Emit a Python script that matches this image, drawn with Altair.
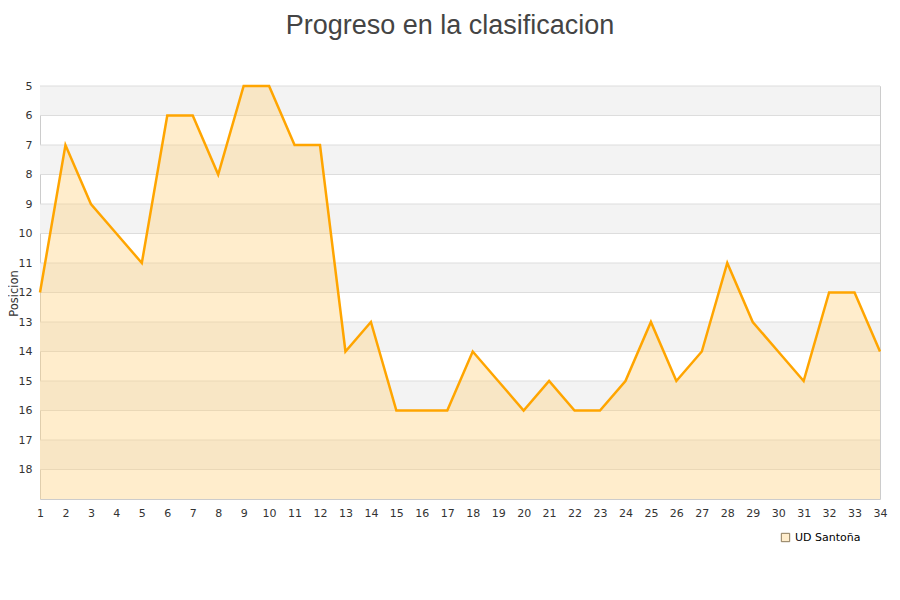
import altair as alt
import pandas as pd

jornadas = list(range(1, 35))
posiciones = [12, 7, 9, 10, 11, 6, 6, 8, 5, 5, 7, 7, 14, 13, 16, 16, 16, 14, 15, 16,
              15, 16, 16, 15, 13, 15, 14, 11, 13, 14, 15, 12, 12, 14]
equipo = "UD Santoña"
band_starts = [5, 7, 9, 11, 13, 15, 17]
y_ticks = list(range(5, 19))

df = pd.DataFrame({"jornada": jornadas, "posicion": posiciones, "equipo": [equipo] * len(jornadas)})
bands = pd.DataFrame({"y0": band_starts, "y1": [b + 1 for b in band_starts]})

yscale = alt.Scale(domain=[5, 19], reverse=True, nice=False, zero=False)
xscale = alt.Scale(domain=[1, 34], nice=False, zero=False)

yaxis = alt.Axis(values=y_ticks, grid=False, ticks=False, domain=False,
                 title="Posicion", titleFontSize=11.5, titleFontWeight="normal",
                 titleColor="#333", titleFont="DejaVu Sans",
                 titleX=-26, titleY=207, titleAngle=-90, titleAlign="center",
                 titleBaseline="middle",
                 labelFontSize=11, labelColor="#333", labelPadding=8,
                 labelFont="DejaVu Sans")
xaxis = alt.Axis(values=jornadas, labelAngle=0, grid=False, ticks=False, domain=False,
                 title=None, labelFontSize=11, labelColor="#333", labelPadding=8,
                 labelFont="DejaVu Sans", labelOverlap=False, labelFlush=False,
                 labelBound=False)

band_layer = alt.Chart(bands).mark_rect(color="#f3f3f3").encode(
    x=alt.value(0), x2=alt.value(840),
    y=alt.Y("y0:Q", scale=yscale, axis=yaxis),
    y2="y1:Q",
)

grid_layer = alt.Chart(pd.DataFrame({"t": y_ticks})).mark_rule(color="#dddddd", strokeWidth=1).encode(
    x=alt.value(0), x2=alt.value(840),
    y=alt.Y("t:Q", scale=yscale, axis=yaxis),
)

area_layer = alt.Chart(df).mark_area(fill="#FFD27F", fillOpacity=0.4).encode(
    x=alt.X("jornada:Q", scale=xscale, axis=xaxis),
    y=alt.Y("posicion:Q", scale=yscale, axis=yaxis),
    y2=alt.datum(19),
    color=alt.Color("equipo:N", scale=alt.Scale(domain=[equipo], range=["#FFEDCC"]),
                    legend=alt.Legend(title=None, orient="none", legendX=740, legendY=446,
                                      symbolType="square", symbolSize=70,
                                      symbolStrokeColor="#8c7b5c", symbolStrokeWidth=1,
                                      symbolFillColor="#FFEDCC", symbolOpacity=1,
                                      labelFontSize=11, labelColor="#000",
                                      labelFont="DejaVu Sans")),
)

line_layer = alt.Chart(df).mark_line(color="#FFA500", strokeWidth=2.5).encode(
    x=alt.X("jornada:Q", scale=xscale, axis=xaxis),
    y=alt.Y("posicion:Q", scale=yscale, axis=yaxis),
)

chart = alt.layer(band_layer, grid_layer, area_layer, line_layer).properties(
    width=840, height=413,
    title=alt.TitleParams("Progreso en la clasificacion", font="Liberation Sans", fontSize=27,
                          fontWeight="normal", color="#444", anchor="middle", dx=-10, offset=40),
    autosize=alt.AutoSizeParams(type="none"),
    padding={"left": 32, "top": 78, "right": 12, "bottom": 90},
).configure_view(stroke="#cccccc", strokeWidth=1)

chart.save("out.html", embed_options={"renderer": "svg", "actions": False})
